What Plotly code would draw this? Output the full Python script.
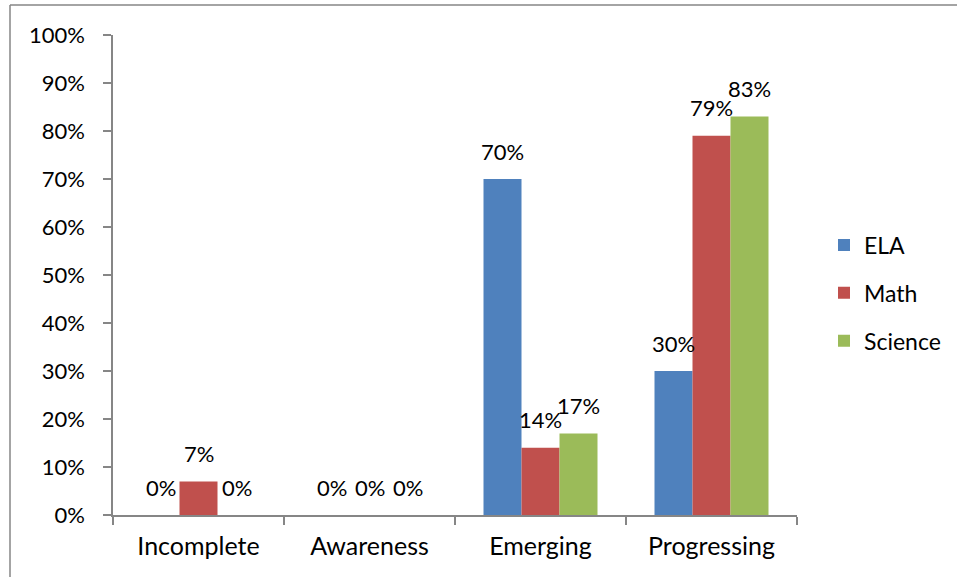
import plotly.graph_objects as go

# Performance levels and share of students per subject
categories = ["Incomplete", "Awareness", "Emerging", "Progressing"]
ela = [0.00, 0.00, 0.70, 0.30]
math = [0.07, 0.00, 0.14, 0.79]
science = [0.00, 0.00, 0.17, 0.83]

series = [
    ("ELA", ela, "#4F81BD"),
    ("Math", math, "#C0504D"),
    ("Science", science, "#9BBB59"),
]

W, H = 958, 577
M_L, M_R, M_T, M_B = 113, 161, 35, 62
BARGAP = 1 / 3
FONT = "Lato"
AXIS_COLOR = "#868686"

plot_w = W - M_L - M_R
plot_h = H - M_T - M_B
cat_px = plot_w / len(categories)
bar_px = cat_px * (1 - BARGAP) / len(series)

fig = go.Figure()
annotations = []
for i, (name, vals, color) in enumerate(series):
    fig.add_trace(go.Bar(
        name=name, x=categories, y=vals,
        marker=dict(color=color, line=dict(width=0)),
        legendgroup=name,
    ))
    offset = (i - (len(series) - 1) / 2) * bar_px
    for c, v in zip(categories, vals):
        annotations.append(dict(
            x=c, y=v, xref="x", yref="y",
            text=f"{round(v * 100)}%", showarrow=False,
            xshift=offset, yshift=28, yanchor="middle",
            font=dict(family=FONT, size=22, color="#000000"),
        ))

# outer chart frame (left and top edges visible)
fx0 = (10 - M_L) / plot_w
fy1 = (H - M_B - 5) / plot_h
fig.add_shape(type="line", xref="paper", yref="paper",
              x0=fx0, x1=fx0, y0=-(M_B + 5) / plot_h, y1=fy1,
              line=dict(color=AXIS_COLOR, width=1.5))
fig.add_shape(type="line", xref="paper", yref="paper",
              x0=fx0, x1=(W - 1 - M_L) / plot_w, y0=fy1, y1=fy1,
              line=dict(color=AXIS_COLOR, width=1.5))

fig.update_layout(
    width=W, height=H,
    margin=dict(l=M_L, r=M_R, t=M_T, b=M_B, pad=0),
    paper_bgcolor="white", plot_bgcolor="white",
    barmode="group", bargap=BARGAP, bargroupgap=0,
    font=dict(family=FONT, size=22, color="#000000"),
    annotations=annotations,
    showlegend=True,
    legend=dict(
        x=(824 - M_L) / plot_w, y=(H - M_B - 293) / plot_h,
        xanchor="left", yanchor="middle",
        font=dict(family=FONT, size=23),
        tracegroupgap=15, traceorder="grouped",
        bgcolor="rgba(0,0,0,0)",
    ),
    xaxis=dict(
        showline=True, linecolor=AXIS_COLOR, linewidth=1.5,
        ticks="outside", tickson="boundaries", ticklen=8,
        tickcolor=AXIS_COLOR, tickwidth=1.5,
        showgrid=False, zeroline=False,
        tickfont=dict(family=FONT, size=25),
        ticklabelstandoff=8,
    ),
    yaxis=dict(
        range=[0, 1], dtick=0.1, tickformat=".0%",
        showline=True, linecolor=AXIS_COLOR, linewidth=1.5,
        ticks="outside", ticklen=8, tickcolor=AXIS_COLOR, tickwidth=1.5,
        showgrid=False, zeroline=False,
        tickfont=dict(family=FONT, size=22),
        ticklabelstandoff=14,
    ),
)

fig.write_html("out.html")
